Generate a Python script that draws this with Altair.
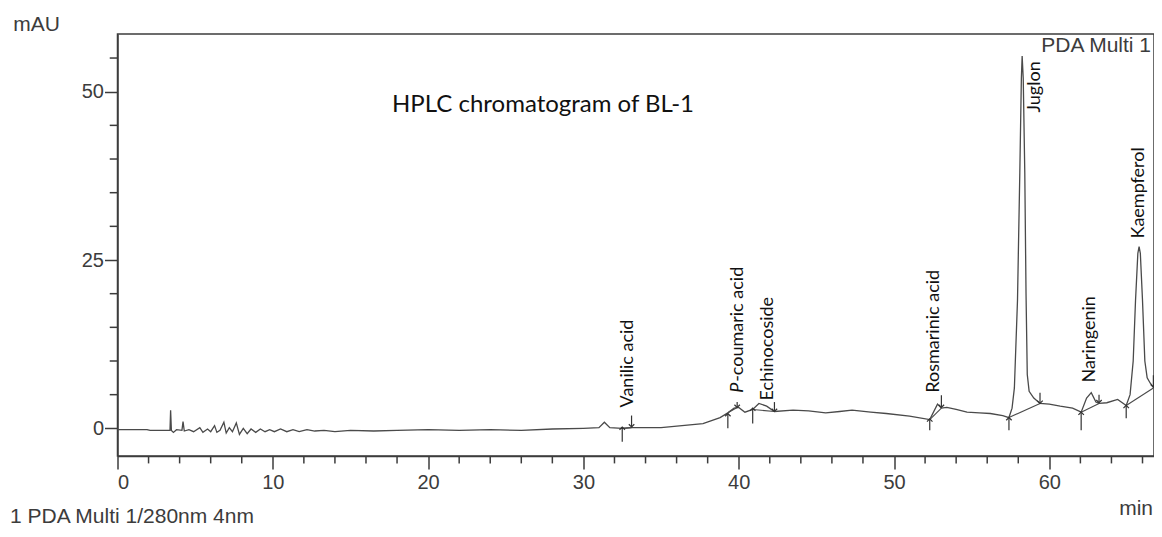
import altair as alt
import pandas as pd

# ---- chromatogram trace (retention time, min / absorbance, mAU) ----
time_min = [0.0, 1.9, 2.1, 3.38, 3.42, 3.47, 3.6, 3.8,
            4.15, 4.22, 4.3, 4.6, 4.9, 5.3, 5.5, 5.8, 6.0, 6.25,
            6.4, 6.6, 6.85, 7.0, 7.2, 7.4, 7.65, 7.85, 8.1, 8.35,
            8.6, 8.9, 9.2, 9.5, 9.8, 10.1, 10.5, 10.9, 11.3, 11.7,
            12.2, 12.7, 13.3, 14.0, 15.0, 16.5, 18.0, 20.0, 22.0, 24.0,
            26.0, 28.0, 30.0, 31.0, 31.35, 31.7, 32.5, 33.1, 35.0, 37.7,
            38.8, 39.3, 39.7, 40.0, 40.4, 40.9, 41.3, 41.8, 42.3, 43.5,
            44.5, 45.6, 46.5, 47.3, 48.5, 49.5, 51.0, 52.3, 52.8, 53.05,
            53.4, 54.0, 54.7, 55.5, 56.2, 57.0, 57.4, 57.6, 57.75, 57.95,
            58.1, 58.2, 58.25, 58.32, 58.42, 58.5, 58.58, 58.7, 59.0, 59.4,
            60.0, 60.7, 61.5, 62.05, 62.4, 62.7, 63.0, 63.2, 63.7, 64.4,
            64.95, 65.2, 65.4, 65.55, 65.7, 65.78, 65.86, 66.0, 66.15, 66.3,
            66.5, 66.74]
absorbance = [-0.2, -0.2, -0.3, -0.3, 2.7, -0.3, -0.6, -0.2,
              -0.3, 1.0, -0.4, -0.2, -0.5, 0.1, -0.6, -0.1, -0.5, 0.4,
              -0.6, -0.3, 0.9, -0.7, 0.1, -0.5, 0.8, -0.9, 0.0, -0.8,
              -0.1, -0.6, -0.1, -0.5, -0.2, -0.5, -0.1, -0.5, -0.2, -0.5,
              -0.2, -0.4, -0.3, -0.5, -0.3, -0.4, -0.3, -0.2, -0.3, -0.2,
              -0.3, -0.1, 0.0, 0.1, 0.9, 0.1, 0.0, 0.1, 0.1, 0.7,
              1.6, 2.3, 3.0, 3.1, 2.4, 2.8, 3.7, 3.3, 2.5, 2.7,
              2.6, 2.3, 2.5, 2.7, 2.4, 2.2, 1.8, 1.3, 3.6, 3.0,
              3.1, 2.8, 2.4, 2.3, 2.2, 1.9, 1.6, 3.0, 6.0, 19.0,
              38.0, 52.0, 55.3, 52.0, 38.0, 20.0, 8.0, 5.5, 4.5, 3.7,
              3.6, 3.3, 3.0, 2.4, 4.5, 5.3, 3.9, 3.7, 3.8, 4.3,
              3.4, 5.0, 10.0, 19.0, 26.0, 27.0, 26.0, 19.0, 10.0, 7.5,
              6.7, 6.0]

# ---- integration baselines (start / end of each peak) ----
base_t1 = [32.5, 39.3, 40.9, 52.3, 57.4, 62.05, 64.95]
base_y1 = [0.0, 2.3, 2.8, 1.3, 1.6, 2.4, 3.4]
base_t2 = [33.1, 39.9, 42.3, 53.05, 59.4, 63.2, 66.7]
base_y2 = [0.1, 3.1, 2.5, 3.0, 3.7, 3.7, 6.0]

# ---- peak start markers (up arrows) and end markers (down arrows) ----
up_t = [32.5, 39.3, 40.9, 52.3, 57.4, 62.05, 64.95]
up_from = [-2.0, 0.0, 0.7, -0.3, -0.3, -0.3, 1.5]
up_tip = [0.2, 2.2, 3.0, 1.4, 1.6, 2.4, 3.4]
down_t = [33.1, 39.9, 42.3, 53.05, 59.4, 63.2, 66.7]
down_from = [1.9, 3.9, 3.9, 4.9, 5.3, 5.0, 7.9]
down_tip = [0.2, 3.1, 2.5, 3.1, 3.7, 3.8, 6.1]

# ---- peak names (rotated labels: anchor = lower end of the text) ----
peak_names = ["Vanilic acid", "-coumaric acid", "Echinocoside", "Rosmarinic acid",
              "Juglon", "Naringenin", "Kaempferol"]
label_t = [32.85, 39.93, 41.86, 52.6, 59.1, 62.65, 65.8]
label_y = [3.1, 6.9, 4.15, 5.3, 46.9, 6.8, 28.2]
italic_names = ["P"]
italic_t = [39.93]
italic_y = [5.3]

x_ticks_major = [0, 10, 20, 30, 40, 50, 60]
x_ticks_minor = [v for v in range(2, 67, 2) if v % 10 != 0]
y_ticks_major = [0, 25, 50]
y_ticks_minor = [v for v in range(5, 56, 5) if v % 25 != 0]

X_DOM = [0, 66.74]
Y_DOM = [-4.11, 58.57]
X_TICK_LEN = 0.5      # minor tick length along x, in minutes (about 8 px)
Y_TICK_LEN = 1.1      # minor tick length along y, in mAU (about 7 px)
AX = "#3c3c3c"

trace = pd.DataFrame({"t": time_min, "mAU": absorbance})
bases = pd.DataFrame({"t1": base_t1, "y1": base_y1, "t2": base_t2, "y2": base_y2})
ups = pd.DataFrame({"t": up_t, "y0": up_from, "y1": up_tip})
downs = pd.DataFrame({"t": down_t, "y0": down_from, "y1": down_tip})
labels = pd.DataFrame({"t": label_t, "y": label_y, "name": peak_names})
ital = pd.DataFrame({"t": italic_t, "y": italic_y, "name": italic_names})
xminor = pd.DataFrame({"tm": x_ticks_minor})
xminor["ya"] = Y_DOM[0]
xminor["yb"] = Y_DOM[0] - Y_TICK_LEN
yminor = pd.DataFrame({"v": y_ticks_minor})
yminor["xa"] = X_DOM[0]
yminor["xb"] = X_DOM[0] - X_TICK_LEN

xs = alt.Scale(domain=X_DOM, nice=False, zero=False)
ys = alt.Scale(domain=Y_DOM, nice=False, zero=False)

line = alt.Chart(trace).mark_line(color="#4a4a4a", strokeWidth=1.3).encode(
    x=alt.X("t:Q", scale=xs, axis=alt.Axis(
        orient="bottom", values=x_ticks_major, tickSize=13, labelPadding=3,
        title="min", titleX=1035, titleY=52, titleAlign="right",
        titleBaseline="middle", titleFontSize=21, titleFontWeight="normal",
        titleFont="Liberation Sans", titleColor=AX, domain=True)),
    y=alt.Y("mAU:Q", scale=ys, axis=alt.Axis(
        orient="left", values=y_ticks_major, tickSize=13, labelPadding=1,
        title="mAU", titleAngle=0, titleX=-81.5, titleY=-10, titleAlign="center",
        titleBaseline="middle", titleFontSize=21, titleFontWeight="normal",
        titleFont="Liberation Sans", titleColor=AX, domain=True)),
)

# minor ticks of the two axes (drawn through the scales, just outside the frame)
x_minor = alt.Chart(xminor).mark_rule(color=AX, strokeWidth=1.5).encode(
    x=alt.X("tm:Q", scale=xs), y=alt.Y("ya:Q", scale=ys), y2="yb:Q")
y_minor = alt.Chart(yminor).mark_rule(color=AX, strokeWidth=1.5).encode(
    y=alt.Y("v:Q", scale=ys), x=alt.X("xa:Q", scale=xs), x2="xb:Q")

baselines = alt.Chart(bases).mark_rule(color="#4a4a4a", strokeWidth=1.1).encode(
    x=alt.X("t1:Q", scale=xs), y=alt.Y("y1:Q", scale=ys),
    x2="t2:Q", y2="y2:Q",
)

up_rules = alt.Chart(ups).mark_rule(color="#333", strokeWidth=1.2).encode(
    x=alt.X("t:Q", scale=xs), y=alt.Y("y0:Q", scale=ys), y2="y1:Q")
up_heads = alt.Chart(ups).mark_point(
    shape="M -1 1 L 0 0 L 1 1", size=30, filled=False, color="#333",
    strokeWidth=1.2, opacity=1).encode(
    x=alt.X("t:Q", scale=xs), y=alt.Y("y1:Q", scale=ys))
down_rules = alt.Chart(downs).mark_rule(color="#333", strokeWidth=1.2).encode(
    x=alt.X("t:Q", scale=xs), y=alt.Y("y0:Q", scale=ys), y2="y1:Q")
down_heads = alt.Chart(downs).mark_point(
    shape="M -1 -1 L 0 0 L 1 -1", size=30, filled=False, color="#333",
    strokeWidth=1.2, opacity=1).encode(
    x=alt.X("t:Q", scale=xs), y=alt.Y("y1:Q", scale=ys))

peak_text = alt.Chart(labels).mark_text(
    angle=270, align="left", baseline="middle", font="Lato", fontSize=18,
    color="#111").encode(
    x=alt.X("t:Q", scale=xs), y=alt.Y("y:Q", scale=ys), text="name:N")
ital_text = alt.Chart(ital).mark_text(
    angle=270, align="left", baseline="middle", font="Lato", fontSize=18,
    fontStyle="italic", color="#111").encode(
    x=alt.X("t:Q", scale=xs), y=alt.Y("y:Q", scale=ys), text="name:N")

title_txt = alt.Chart(pd.DataFrame({"s": ["HPLC chromatogram of BL-1"]})).mark_text(
    align="left", baseline="middle", font="Lato", fontSize=24, color="#111").encode(
    x=alt.value(274.5), y=alt.value(71), text="s:N")
pda_txt = alt.Chart(pd.DataFrame({"s": ["PDA Multi 1"]})).mark_text(
    align="right", baseline="middle", font="Liberation Sans", fontSize=21,
    color=AX).encode(x=alt.value(1033.5), y=alt.value(12), text="s:N")
foot_txt = alt.Chart(pd.DataFrame({"s": ["1  PDA Multi 1/280nm 4nm"]})).mark_text(
    align="left", baseline="alphabetic", font="Liberation Sans", fontSize=21,
    color=AX).encode(x=alt.value(-107.5), y=alt.value(489), text="s:N")

chart = alt.layer(
    line, x_minor, y_minor, baselines, up_rules, up_heads, down_rules, down_heads,
    peak_text, ital_text, title_txt, pda_txt, foot_txt
).properties(
    width=1036.5, height=422,
    autosize=alt.AutoSizeParams(type="none"),
    padding={"left": 109.5, "top": 26, "right": 0, "bottom": 71},
).configure_view(
    stroke=AX, strokeWidth=1.5
).configure_axis(
    labelFont="Liberation Sans", labelFontSize=20, labelColor=AX,
    tickColor=AX, tickWidth=1.5, domainColor=AX, domainWidth=1.5, grid=False,
)

chart.save("out.html", embed_options={"renderer": "svg", "actions": False})
